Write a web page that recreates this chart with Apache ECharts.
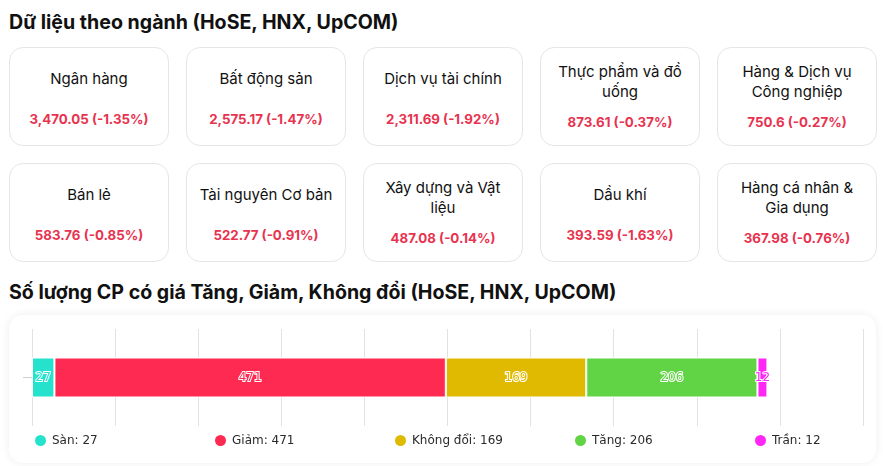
<!DOCTYPE html>
<html>
<head>
<meta charset="utf-8">
<title>Dữ liệu theo ngành</title>
<script src="https://cdn.jsdelivr.net/npm/echarts@6/dist/echarts.min.js"></script>
<style>
    html, body {
        margin: 0;
        padding: 0;
        background: #fff;
        width: 883px;
        height: 466px;
        overflow: hidden;
        font-family: Inter, "Noto Sans", sans-serif;
    }
    .title {
        position: absolute;
        left: 9px;
        font-size: 19.6px;
        font-weight: 700;
        line-height: 24px;
        color: #111;
        white-space: nowrap;
    }
    #cards {
        position: absolute;
        left: 9px;
        top: 47px;
        display: grid;
        grid-template-columns: repeat(5, 160px);
        grid-auto-rows: 99px;
        column-gap: 17px;
        row-gap: 17px;
    }
    .card {
        box-sizing: border-box;
        border: 1px solid #e5e6e8;
        border-radius: 14px;
        background: #fff;
        padding: 11px 11px 0 11px;
        text-align: center;
    }
    .card.two {
        padding-top: 14px;
    }
    .card .name {
        height: 40px;
        display: flex;
        align-items: center;
        justify-content: center;
        font-size: 15px;
        line-height: 20px;
        color: #111;
    }
    .card .val {
        margin-top: 11px;
        font-size: 13.3px;
        line-height: 18px;
        font-weight: 700;
        color: #e8334f;
    }
    #box {
        position: absolute;
        left: 9px;
        top: 315px;
        width: 867px;
        height: 148px;
        border-radius: 14px;
        background: #fff;
        box-shadow: 0 0 10px rgba(0, 0, 0, 0.07);
    }
    #main {
        width: 867px;
        height: 148px;
    }
</style>
</head>
<body>
<div class="title" style="top:10px">Dữ liệu theo ngành (HoSE, HNX, UpCOM)</div>
<div id="cards"></div>
<div class="title" style="top:280px">Số lượng CP có giá Tăng, Giảm, Không đổi (HoSE, HNX, UpCOM)</div>
<div id="box"><div id="main"></div></div>

<script>
// chỉ số ngành
const sectorNames = ['Ngân hàng', 'Bất động sản', 'Dịch vụ tài chính', 'Thực phẩm và đồ uống', 'Hàng & Dịch vụ Công nghiệp',
    'Bán lẻ', 'Tài nguyên Cơ bản', 'Xây dựng và Vật liệu', 'Dầu khí', 'Hàng cá nhân & Gia dụng'];
const sectorValues = ['3,470.05', '2,575.17', '2,311.69', '873.61', '750.6',
    '583.76', '522.77', '487.08', '393.59', '367.98'];
const sectorChanges = [-1.35, -1.47, -1.92, -0.37, -0.27, -0.85, -0.91, -0.14, -1.63, -0.76];

// số lượng CP
const statusNames = ['Sàn', 'Giảm', 'Không đổi', 'Tăng', 'Trần'];
const statusCounts = [27, 471, 169, 206, 12];
const statusColors = ['#24e2cc', '#ff2a51', '#e0ba00', '#60d444', '#ff26f6'];
const axisMax = 1000;
const axisStep = 100;

let cardsEl = document.getElementById('cards');
sectorNames.forEach((name, i) => {
    let card = document.createElement('div');
    card.className = 'card';
    let n = document.createElement('div');
    n.className = 'name';
    let s = document.createElement('span');
    s.textContent = name;
    n.appendChild(s);
    let v = document.createElement('div');
    v.className = 'val';
    v.textContent = sectorValues[i] + ' (' + sectorChanges[i].toFixed(2) + '%)';
    card.appendChild(n);
    card.appendChild(v);
    cardsEl.appendChild(card);
    // tiêu đề 2 dòng thì lùi xuống một chút
    if (s.offsetHeight > 30) card.classList.add('two');
});

let myChart = echarts.init(document.getElementById('main'));
myChart.setOption({
    animation: false,
    textStyle: {fontFamily: '"DejaVu Sans", sans-serif'},
    grid: {left: 23, right: 13, top: 14, bottom: 37},
    xAxis: {
        type: 'value',
        min: 0,
        max: axisMax,
        interval: axisStep,
        axisLabel: {show: false},
        axisLine: {show: false},
        axisTick: {show: false},
        splitLine: {lineStyle: {color: '#e2e2e2'}}
    },
    yAxis: {
        type: 'category',
        data: [''],
        axisLine: {show: false},
        axisTick: {show: true, alignWithLabel: true, length: 9, lineStyle: {color: '#cfcfcf'}},
        axisLabel: {show: false}
    },
    legend: statusNames.map((name, i) => ({
        data: [name],
        left: 24 + 180 * i,
        top: 118,
        padding: 0,
        icon: 'circle',
        itemWidth: 13,
        itemHeight: 13,
        itemGap: 0,
        selectedMode: false,
        textStyle: {color: '#2a2a2a', fontSize: 12, fontFamily: '"DejaVu Sans", sans-serif'},
        formatter: () => name + ': ' + statusCounts[i]
    })),
    series: statusNames.map((name, i) => ({
        name: name,
        type: 'bar',
        stack: 'total',
        barWidth: 40,
        data: [statusCounts[i]],
        itemStyle: {color: statusColors[i], borderColor: '#fff', borderWidth: 1},
        label: {
            show: true,
            position: 'inside',
            fontSize: 12,
            fontFamily: '"DejaVu Sans", sans-serif',
            color: statusColors[i],
            textBorderColor: '#fff',
            textBorderWidth: 2
        }
    }))
});
</script>
</body>
</html>
